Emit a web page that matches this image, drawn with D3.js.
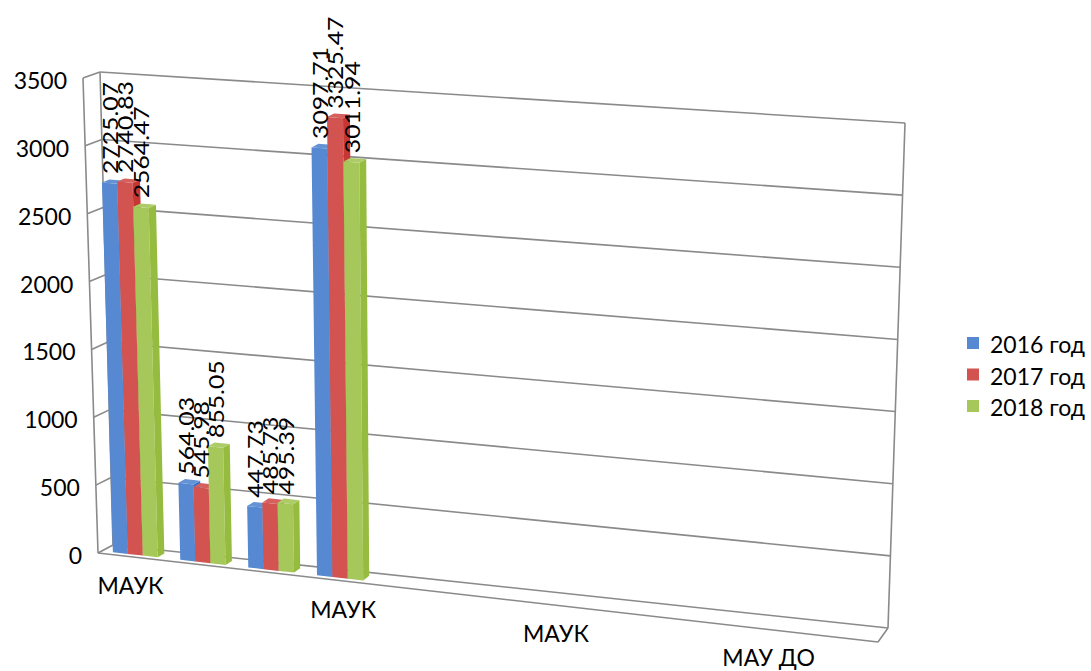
<!DOCTYPE html>
<html lang="ru">
<head>
<meta charset="UTF-8">
<title>3D column chart</title>
<script src="https://d3js.org/d3.v7.min.js"></script>
<style>
  * { margin: 0; padding: 0; }
  body { background: #fff; font-family: Lato, "Open Sans", sans-serif; }
  .wall { stroke: #8a8a8a; stroke-width: 1.6; fill: none; }
  .tick-label, .cat-label, .legend-label { font-size: 23px; fill: #000; }
  .data-label { font-size: 21px; fill: #000; }
</style>
</head>
<body>
<div id="chart"></div>
<script>
// data
const categories = ["МАУК", "МАУК", "МАУК", "МАУК", "МАУК", "МАУК", "МАУК", "МАУК", "МАУК", "МАУ ДО", "МАУ ДО"];
const seriesNames = ["2016 год", "2017 год", "2018 год"];
const values2016 = [2725.07, 564.03, 447.73, 3097.71];
const values2017 = [2740.83, 545.98, 485.73, 3325.47];
const values2018 = [2564.47, 855.05, 495.39, 3011.94];
const yTicks = [0, 500, 1000, 1500, 2000, 2500, 3000, 3500];
const colors = ["#5689d1", "#d2534f", "#a6c85b"];

const seriesValues = [values2016, values2017, values2018];
const width = 1091, height = 671;

const svg = d3.select("#chart").append("svg")
    .attr("width", width).attr("height", height);

// corners of the 3D box on screen (u: category, v: value, w: depth, 0 = front)
const box = {
    FLB: [98, 553], FLT: [83, 78], BLB: [113, 545], BLT: [100, 72],
    FRB: [878, 642], FRT: [893, 135], BRB: [888, 628], BRT: [905, 123]
};
const persp = 0.055;
const warp = u => u * (1 - persp) / (1 - persp * u);
const lerp = (a, b, s) => [a[0] + (b[0] - a[0]) * s, a[1] + (b[1] - a[1]) * s];

function proj(u, v, w, linear) {
    const t = linear ? u : warp(u);
    const fb = lerp(box.FLB, box.FRB, t), ft = lerp(box.FLT, box.FRT, t);
    const bb = lerp(box.BLB, box.BRB, t), bt = lerp(box.BLT, box.BRT, t);
    return lerp(lerp(fb, ft, v), lerp(bb, bt, v), w);
}

const x = d3.scaleBand().domain(d3.range(categories.length)).range([0, 1]).padding(0);
const xs = d3.scaleBand().domain(seriesNames).range([0, x.bandwidth()])
    .paddingInner(0).paddingOuter(0.75);
const y = d3.scaleLinear().domain([0, 3500]).range([0, 1]);

const line = d3.line();
const poly = pts => "M" + pts.map(p => p.join(",")).join("L") + "Z";
const seg = (a, b) => svg.append("path").attr("class", "wall").attr("d", line([a, b]));

// walls and gridlines
yTicks.forEach(t => {
    const v = y(t);
    seg(proj(0, v, 0), proj(0, v, 1));   // left wall
    seg(proj(0, v, 1), proj(1, v, 1));   // back wall
});
seg(proj(0, 0, 0), proj(0, 1, 0));
seg(proj(0, 0, 1), proj(0, 1, 1));
seg(proj(1, 0, 1), proj(1, 1, 1));
// floor
seg(proj(0, 0, 0), proj(1, 0, 0));
seg(proj(1, 0, 0), proj(1, 0, 1));

// tick labels
yTicks.forEach(t => {
    const p = proj(0, y(t), 0);
    svg.append("text").attr("class", "tick-label")
        .attr("x", p[0] - 16).attr("y", p[1] + 2)
        .attr("text-anchor", "end").attr("dominant-baseline", "central")
        .text(t);
});

// category labels (every third one shown)
categories.forEach((c, i) => {
    if (i % 3 !== 0) return;
    const u = x(i) + x.bandwidth() / 2;
    const p = proj(u, 0, 0, true);
    svg.append("text").attr("class", "cat-label")
        .attr("x", p[0] - 3).attr("y", p[1] + 36.5)
        .attr("text-anchor", "middle").text(c);
});

// bars
const w0 = 0.25, w1 = 0.7;
const shade = (c, k) => { const h = d3.hsl(c); h.l *= k; return h.formatHex(); };
const labels = [];
categories.forEach((c, i) => {
    seriesNames.forEach((s, j) => {
        const val = seriesValues[j][i];
        if (val == null) return;
        const u0 = x(i) + xs(s), u1 = u0 + xs.bandwidth();
        const v = y(val);
        const g = svg.append("g");
        g.append("path").attr("fill", colors[j])
            .attr("d", poly([proj(u0, 0, w0), proj(u1, 0, w0), proj(u1, v, w0), proj(u0, v, w0)]));
        g.append("path").attr("fill", shade(colors[j], 0.86))
            .attr("d", poly([proj(u1, 0, w0), proj(u1, 0, w1), proj(u1, v, w1), proj(u1, v, w0)]));
        g.append("path").attr("fill", shade(colors[j], 1.06))
            .attr("d", poly([proj(u0, v, w0), proj(u1, v, w0), proj(u1, v, w1), proj(u0, v, w1)]));
        const p = proj((u0 + u1) / 2, v, w0);
        labels.push({ p, text: d3.format(".2f")(val) });
    });
});

labels.forEach(d => {
    svg.append("text").attr("class", "data-label")
        .attr("transform", `translate(${d.p[0]},${d.p[1] - 9}) rotate(-90) scale(1.18,1)`)
        .attr("dominant-baseline", "central")
        .text(d.text);
});

// legend
const legend = svg.append("g").attr("transform", "translate(967,343)");
seriesNames.forEach((s, j) => {
    const row = legend.append("g").attr("transform", `translate(0,${j * 31.5})`);
    row.append("rect").attr("x", 0).attr("y", -6).attr("width", 12).attr("height", 12)
        .attr("fill", colors[j]);
    row.append("text").attr("class", "legend-label")
        .attr("x", 23).attr("y", 1).attr("dominant-baseline", "central").text(s);
});
</script>
</body>
</html>
